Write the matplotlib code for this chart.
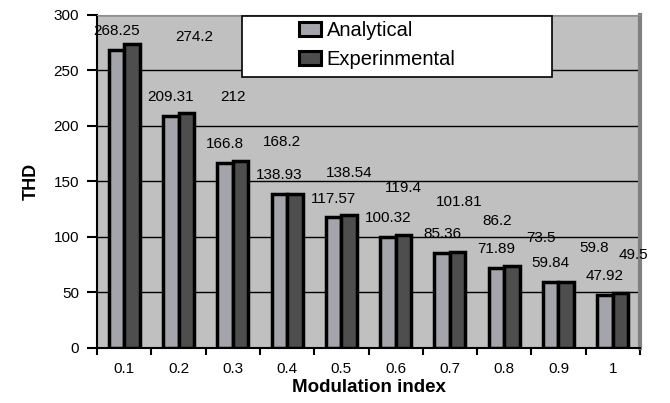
import matplotlib.pyplot as plt
from matplotlib.patches import Rectangle
import numpy as np

plt.rcParams['font.family'] = ['Liberation Sans', 'DejaVu Sans']

# Data: THD vs modulation index
mod_index = ['0.1', '0.2', '0.3', '0.4', '0.5', '0.6', '0.7', '0.8', '0.9', '1']
analytical = [268.25, 209.31, 166.8, 138.93, 117.57, 100.32, 85.36, 71.89, 59.84, 47.92]
experimental = [274.2, 212, 168.2, 138.54, 119.4, 101.81, 86.2, 73.5, 59.8, 49.5]
analytical_txt = ['268.25', '209.31', '166.8', '138.93', '117.57', '100.32', '85.36', '71.89', '59.84', '47.92']
experimental_txt = ['274.2', '212', '168.2', '138.54', '119.4', '101.81', '86.2', '73.5', '59.8', '49.5']

# the experimental labels were dragged around in the original, offsets from each bar top
exp_dx = [1.15, 0.86, 0.77, 1.0, 1.0, 1.03, 0.73, 0.54, 0.51, 0.23]
exp_dy = [6, 14, 17, 19.5, 24.6, 29.7, 28, 25.5, 30, 34.5]

x = np.arange(len(mod_index))
w = 1 / 3.5

fig = plt.figure(figsize=(6.7, 4.03), dpi=100)
ax = fig.add_axes([0.145, 0.1365, 0.81, 0.8265])
ax.set_facecolor('#c0c0c0')

ax.bar(x - w / 2, analytical, w, color='#a4a4ac', edgecolor='black', linewidth=2.5,
       label='Analytical', zorder=3)
ax.bar(x + w / 2, experimental, w, color='#4e4e4e', edgecolor='black', linewidth=2.5,
       label='Experinmental', zorder=3)

for i in range(len(x)):
    ax.text(x[i] - w / 2, analytical[i] + 17, analytical_txt[i], ha='center', va='center',
            fontsize=11, zorder=5)
    ax.text(x[i] + w / 2 + exp_dx[i], experimental[i] + exp_dy[i], experimental_txt[i],
            ha='center', va='center', fontsize=11, zorder=5)

ax.set_xlim(-0.5, 9.5)
ax.set_ylim(0, 300)
ax.set_yticks(range(0, 301, 50))
ax.yaxis.grid(True, color='black', linewidth=1)
ax.set_axisbelow(True)

ax.set_xticks(x)
ax.set_xticklabels(mod_index)
ax.set_xticks(np.arange(-0.5, 10, 1), minor=True)
ax.tick_params(axis='x', which='major', length=0, pad=10, labelsize=11)
ax.tick_params(axis='x', which='minor', length=5, width=1.5, direction='out')
ax.tick_params(axis='y', length=7, width=1.5, pad=6, labelsize=11)

for s in ['left', 'bottom']:
    ax.spines[s].set_color('black')
    ax.spines[s].set_linewidth(1.5)
ax.spines['top'].set_color('#909090')
ax.spines['right'].set_color('#808080')
ax.spines['right'].set_linewidth(3)

ax.set_xlabel('Modulation index', fontsize=13.5, fontweight='bold', labelpad=2)
ax.set_ylabel('THD', fontsize=13, fontweight='bold', labelpad=10)

# legend box is wider than its content, so draw the frame separately
box = Rectangle((0.267, 0.814), 0.571, 0.183, transform=ax.transAxes, facecolor='white',
                edgecolor='black', linewidth=1.2, zorder=6, clip_on=False)
ax.add_patch(box)
leg = ax.legend(loc='upper left', bbox_to_anchor=(0.36, 1.0), frameon=False,
                fontsize=14.5, borderpad=0.3, labelspacing=0.5, handlelength=1.1,
                handleheight=0.75, handletextpad=0.3, borderaxespad=0)
leg.set_zorder(7)
for h in leg.legend_handles:
    h.set_linewidth(2.2)

plt.savefig('out.png', dpi=100)
